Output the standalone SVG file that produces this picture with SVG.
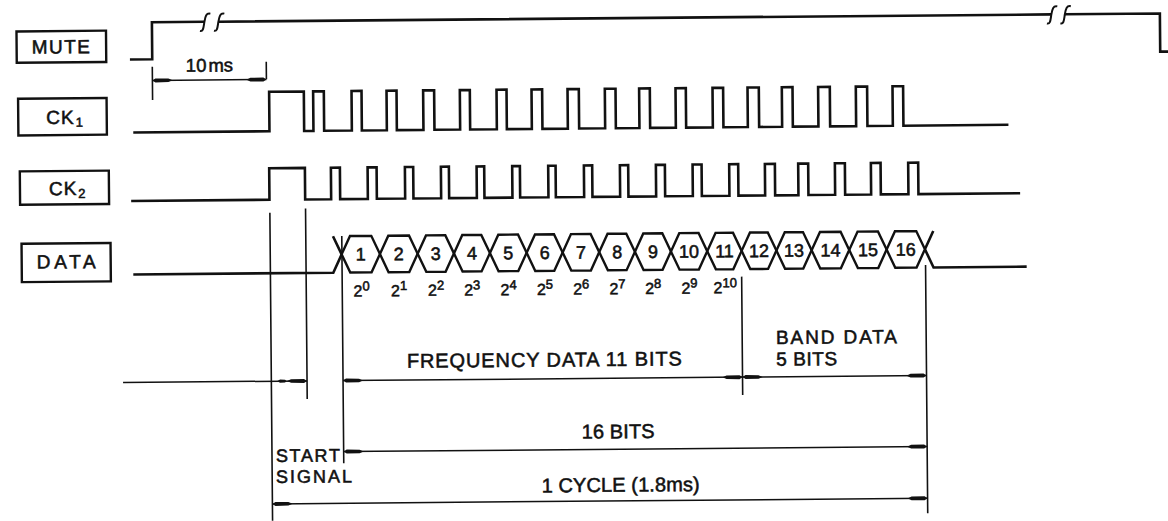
<svg xmlns="http://www.w3.org/2000/svg" xmlns:xlink="http://www.w3.org/1999/xlink" width="1168" height="521" viewBox="0 0 1168 521">
<style>
.sig{fill:none;stroke:#111;stroke-width:2.6;stroke-linejoin:miter}
.box{fill:#fff;stroke:#111;stroke-width:2.4}
.hex{fill:none;stroke:#111;stroke-width:2.4;stroke-linejoin:miter}
.dim{fill:none;stroke:#111;stroke-width:1.5}
.ext{fill:none;stroke:#111;stroke-width:1.6}
text{font-family:"Liberation Sans",Arial,sans-serif;fill:#111;stroke:#111;stroke-width:0.55px}
.lbl{font-size:19px;text-anchor:middle}
.ck{font-size:19px;letter-spacing:1px}
.num{font-size:18px;text-anchor:middle}
.exp{font-size:16px;text-anchor:middle}
.ann{font-size:20px}
.band{font-size:19px}
.ss{font-size:18px}
</style>
<defs>
<marker id="ah" viewBox="0 0 20 8" refX="20" refY="4" markerWidth="20" markerHeight="8" markerUnits="userSpaceOnUse" orient="auto-start-reverse">
<path d="M0,4 L4,2.2 L17,2 L20,4 L17,6 L4,5.8 Z" fill="#111"/>
</marker>
<path id="brk" d="M-4.5,9 C-1,10 -1,5.5 0,0 C1,-5.5 2,-9 6,-8" fill="none" stroke="#111" stroke-width="2"/>
</defs>
<rect width="1168" height="521" fill="#fff"/>
<g transform="rotate(-0.5 584 260)">
<g id="node-mute">
<rect class="box" x="18.5" y="26.5" width="89.5" height="31.3"/>
<text class="lbl" x="62.7" y="48.8" textLength="58" lengthAdjust="spacing">MUTE</text>
</g>
<g id="node-ck1">
<rect class="box" x="19.5" y="93.8" width="88.5" height="36.7"/>
<text class="ck" x="47.5" y="119.4">CK<tspan font-size="13" dy="3" dx="1" letter-spacing="0">1</tspan></text>
</g>
<g id="node-ck2">
<rect class="box" x="20.6" y="166.5" width="89" height="33.3"/>
<text class="ck" x="49.5" y="190.5">CK<tspan font-size="13" dy="3" dx="1" letter-spacing="0">2</tspan></text>
</g>
<g id="node-data">
<rect class="box" x="21.7" y="238.8" width="89" height="38.4"/>
<text class="lbl" x="66.2" y="263.8" textLength="59" lengthAdjust="spacing">DATA</text>
</g>
<g id="waveforms">
<path class="sig" d="M131.7,55.5 H154 V18.5 H206.5 M220.5,18.5 H1053.5 M1067,18.5 H1162 V56.7 H1185"/>
<use xlink:href="#brk" x="206.5" y="18.5"/>
<use xlink:href="#brk" x="220.5" y="18.5"/>
<use xlink:href="#brk" x="1053.5" y="18.5"/>
<use xlink:href="#brk" x="1067" y="18.5"/>
<path class="sig" d="M134.4,128.5 H270.6 V89 H305.3 V128.5 H314.6 V89 H325.3 V128.5 H353 V89 H363 V128.5 H388 V89 H398 V128.5 H424.6 V89 H435.6 V128.5 H461.3 V89 H471.3 V128.5 H498 V89 H508 V128.5 H533 V89 H543.6 V128.5 H569 V89 H580.3 V128.5 H606.3 V89 H617 V128.5 H640.6 V89 H651.3 V128.5 H677 V89 H687.3 V128.5 H714 V89 H724.6 V128.5 H749 V89 H760.3 V128.5 H783.3 V89 H794 V128.5 H819.6 V89 H831.3 V128.5 H857.3 V89 H868.6 V128.5 H894 V89 H904.6 V128.5 H1009.6"/>
<path class="sig" d="M131.7,197 H270 V165.5 H305.7 V197 H331.7 V165.5 H340.7 V197 H368.4 V165.5 H377.4 V197 H405.7 V165.5 H414 V197 H441.7 V165.5 H449.7 V197 H477.4 V165.5 H485 V197 H513 V165.5 H520.7 V197 H549 V165.5 H556.4 V197 H584.7 V165.5 H593 V197 H620.7 V165.5 H629 V197 H656.7 V165.5 H665.7 V197 H693.4 V165.5 H702.4 V197 H730 V165.5 H739 V197 H765.7 V165.5 H775.7 V197 H799 V165.5 H809 V197 H835.7 V165.5 H845.7 V197 H871.7 V165.5 H881.4 V197 H909 V165.5 H919 V197 H1020.7"/>
<path class="sig" d="M133.2,270.5 H333.2 L341.7,252.25 M333.2,234 L341.7,252.25 M925,252.25 L933.5,234 M925,252.25 L933.5,270.5 H1026.6"/>
</g>
<g id="data-bits">
<polygon class="hex" points="341.7,252.25 350.2,234 371.5,234 380,252.25 371.5,270.5 350.2,270.5"/>
<polygon class="hex" points="380,252.25 388.5,234 409.2,234 417.7,252.25 409.2,270.5 388.5,270.5"/>
<polygon class="hex" points="417.7,252.25 426.2,234 445.5,234 454,252.25 445.5,270.5 426.2,270.5"/>
<polygon class="hex" points="454,252.25 462.5,234 481.5,234 490,252.25 481.5,270.5 462.5,270.5"/>
<polygon class="hex" points="490,252.25 498.5,234 518.2,234 526.7,252.25 518.2,270.5 498.5,270.5"/>
<polygon class="hex" points="526.7,252.25 535.2,234 554.2,234 562.7,252.25 554.2,270.5 535.2,270.5"/>
<polygon class="hex" points="562.7,252.25 571.2,234 590.8,234 599.3,252.25 590.8,270.5 571.2,270.5"/>
<polygon class="hex" points="599.3,252.25 607.8,234 626.5,234 635,252.25 626.5,270.5 607.8,270.5"/>
<polygon class="hex" points="635,252.25 643.5,234 662.5,234 671,252.25 662.5,270.5 643.5,270.5"/>
<polygon class="hex" points="671,252.25 679.5,234 698.8,234 707.3,252.25 698.8,270.5 679.5,270.5"/>
<polygon class="hex" points="707.3,252.25 715.8,234 733.2,234 741.7,252.25 733.2,270.5 715.8,270.5"/>
<polygon class="hex" points="741.7,252.25 750.2,234 768,234 776.5,252.25 768,270.5 750.2,270.5"/>
<polygon class="hex" points="776.5,252.25 785,234 803.2,234 811.7,252.25 803.2,270.5 785,270.5"/>
<polygon class="hex" points="811.7,252.25 820.2,234 840.8,234 849.3,252.25 840.8,270.5 820.2,270.5"/>
<polygon class="hex" points="849.3,252.25 857.8,234 878.2,234 886.7,252.25 878.2,270.5 857.8,270.5"/>
<polygon class="hex" points="886.7,252.25 895.2,234 916.5,234 925,252.25 916.5,270.5 895.2,270.5"/>
<text class="num" x="360.85" y="258.6">1</text>
<text class="num" x="398.85" y="258.6">2</text>
<text class="num" x="435.85" y="258.6">3</text>
<text class="num" x="472" y="258.6">4</text>
<text class="num" x="508.35" y="258.6">5</text>
<text class="num" x="544.7" y="258.6">6</text>
<text class="num" x="581" y="258.6">7</text>
<text class="num" x="617.15" y="258.6">8</text>
<text class="num" x="653" y="258.6">9</text>
<text class="num" x="689.15" y="258.6">10</text>
<text class="num" x="724.5" y="258.6">11</text>
<text class="num" x="759.1" y="258.6">12</text>
<text class="num" x="794.1" y="258.6">13</text>
<text class="num" x="830.5" y="258.6">14</text>
<text class="num" x="868" y="258.6">15</text>
<text class="num" x="905.85" y="258.6">16</text>
<text class="exp" x="361.3" y="294.5">2<tspan font-size="13" dy="-6">0</tspan></text>
<text class="exp" x="398.85" y="294.5">2<tspan font-size="13" dy="-6">1</tspan></text>
<text class="exp" x="435.85" y="294.5">2<tspan font-size="13" dy="-6">2</tspan></text>
<text class="exp" x="472" y="294.5">2<tspan font-size="13" dy="-6">3</tspan></text>
<text class="exp" x="508.35" y="294.5">2<tspan font-size="13" dy="-6">4</tspan></text>
<text class="exp" x="544.7" y="294.5">2<tspan font-size="13" dy="-6">5</tspan></text>
<text class="exp" x="581" y="294.5">2<tspan font-size="13" dy="-6">6</tspan></text>
<text class="exp" x="617.15" y="294.5">2<tspan font-size="13" dy="-6">7</tspan></text>
<text class="exp" x="653" y="294.5">2<tspan font-size="13" dy="-6">8</tspan></text>
<text class="exp" x="689.15" y="294.5">2<tspan font-size="13" dy="-6">9</tspan></text>
<text class="exp" x="725" y="294.5">2<tspan font-size="13" dy="-6">10</tspan></text>
</g>
<g id="connectors">
<path class="ext" d="M154,63 V96.2 M268,59 V76.5"/>
<path class="dim" d="M154,76.7 H268" marker-start="url(#ah)" marker-end="url(#ah)"/>
<path class="ext" d="M270.3,210 V518 M306,206 V396.6 M342,234 V461.2 M741.5,278 V396.4 M925.5,268 V516.3"/>
<path class="dim" d="M122,378.5 H306" marker-end="url(#ah)"/>
<path d="M276,378.5 L279,376.9 L284,377.1 L285.5,378.5 L284,379.9 L279,380.1 Z" fill="#111"/>
<path class="dim" d="M342,378.5 H741.5" marker-start="url(#ah)" marker-end="url(#ah)"/>
<path class="dim" d="M741.5,378.5 H925.5" marker-start="url(#ah)" marker-end="url(#ah)"/>
<path class="dim" d="M342,449.5 H925.5" marker-start="url(#ah)" marker-end="url(#ah)"/>
<path class="dim" d="M270.3,501.2 H925.5" marker-start="url(#ah)" marker-end="url(#ah)"/>
</g>
<g id="annotations">
<text x="187.5" y="68.4" font-size="18.5">10<tspan dx="2">ms</tspan></text>
<text class="ann" x="406" y="366.3" textLength="275" lengthAdjust="spacing">FREQUENCY DATA 11 BITS</text>
<text class="band" x="775.3" y="345.8" textLength="121" lengthAdjust="spacing">BAND DATA</text>
<text class="band" x="775.3" y="367.4" textLength="61" lengthAdjust="spacing">5 BITS</text>
<text class="ann" x="580.1" y="438.6" textLength="73" lengthAdjust="spacing">16 BITS</text>
<text class="ann" x="539.7" y="492" textLength="158" lengthAdjust="spacing">1 CYCLE (1.8ms)</text>
<text class="ss" x="274.2" y="459.3" textLength="64" lengthAdjust="spacing">START</text>
<text class="ss" x="274.2" y="480.3" textLength="76" lengthAdjust="spacing">SIGNAL</text>
</g>
</g>
</svg>
